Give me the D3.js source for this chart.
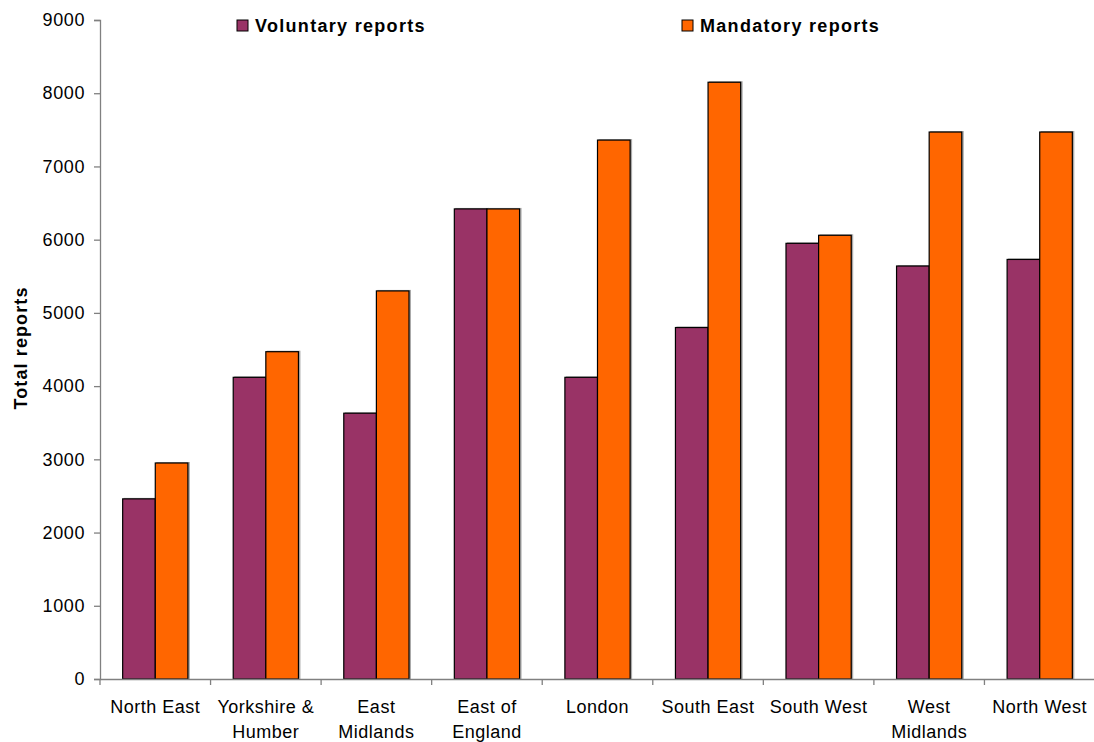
<!DOCTYPE html>
<html>
<head>
<meta charset="utf-8">
<script src="https://cdn.jsdelivr.net/npm/d3@7"></script>
<style>
  body { margin: 0; background: #fff; }
  text { font-family: "Liberation Sans", Arial, sans-serif; fill: #000; }
</style>
</head>
<body>
<svg id="chart" width="1094" height="742"></svg>
<script>
// data
var regions = ["North East", "Yorkshire & Humber", "East Midlands", "East of England",
  "London", "South East", "South West", "West Midlands", "North West"];
var regionLines = [["North East"], ["Yorkshire &", "Humber"], ["East", "Midlands"], ["East of", "England"],
  ["London"], ["South East"], ["South West"], ["West", "Midlands"], ["North West"]];
var voluntary = [2460, 4120, 3630, 6420, 4120, 4800, 5950, 5640, 5730];
var mandatory = [2950, 4470, 5300, 6420, 7360, 8150, 6060, 7470, 7470];
var seriesNames = ["Voluntary reports", "Mandatory reports"];
var yTicks = [0, 1000, 2000, 3000, 4000, 5000, 6000, 7000, 8000, 9000];

var colors = ["#993366", "#ff6600"];

var margin = { top: 20, right: -1, bottom: 63, left: 100 },
  width = 1094 - margin.left - margin.right,
  height = 742 - margin.top - margin.bottom;

var svg = d3.select("#chart");
var g = svg.append("g")
  .attr("transform", "translate(" + margin.left + "," + margin.top + ")");

var x = d3.scaleBand().domain(regions).range([0, width]).paddingInner(0).paddingOuter(0);
var x1 = d3.scaleBand().domain([0, 1]).range([x.bandwidth() * 0.205, x.bandwidth() * 0.795]);
var y = d3.scaleLinear().domain([0, 9000]).range([height, 0]);

// y axis
var yAxis = g.append("g")
  .call(d3.axisLeft(y).tickValues(yTicks).tickSize(6).tickPadding(9).tickFormat(d3.format("d")));
yAxis.select(".domain").attr("stroke", "#808080").attr("stroke-width", 1.3);
yAxis.selectAll(".tick line").attr("stroke", "#808080").attr("stroke-width", 1.3);
yAxis.selectAll(".tick text")
  .style("font-size", "18px")
  .style("letter-spacing", "0.6px")
  .attr("fill", "#000");

// bars
var groups = g.selectAll(".region")
  .data(regions)
  .enter()
  .append("g")
  .attr("class", "region")
  .attr("transform", function (d) { return "translate(" + x(d) + ",0)"; });

[voluntary, mandatory].forEach(function (vals, s) {
  // faint shadow
  groups.append("rect")
    .attr("x", function (d, i) { return x1(s) + 1; })
    .attr("y", function (d, i) { return y(vals[i]) - 1; })
    .attr("width", x1.bandwidth() + 1)
    .attr("height", function (d, i) { return height - y(vals[i]) + 1; })
    .attr("fill", "#aaa");
  groups.append("rect")
    .attr("x", function (d, i) { return x1(s); })
    .attr("y", function (d, i) { return y(vals[i]); })
    .attr("width", x1.bandwidth())
    .attr("height", function (d, i) { return height - y(vals[i]); })
    .attr("fill", colors[s])
    .attr("stroke", "#000")
    .attr("stroke-width", 1.2);
});

// x axis
var xAxis = g.append("g")
  .attr("transform", "translate(0," + height + ")")
  .call(d3.axisBottom(x).tickSize(0).tickFormat(""));
xAxis.select(".domain").attr("stroke", "#808080").attr("stroke-width", 1.3);
xAxis.selectAll(".tick").remove();

// tick marks between the categories
var bounds = regions.map(function (d) { return x(d); }).concat([width]);
xAxis.selectAll(".bound")
  .data(bounds)
  .enter()
  .append("line")
  .attr("x1", function (d) { return d; })
  .attr("x2", function (d) { return d; })
  .attr("y1", 0)
  .attr("y2", 6)
  .attr("stroke", "#808080")
  .attr("stroke-width", 1.3);

// category labels
var labels = xAxis.selectAll(".lab")
  .data(regions)
  .enter()
  .append("text")
  .attr("text-anchor", "middle")
  .attr("x", function (d) { return x(d) + x.bandwidth() / 2; })
  .attr("y", 34)
  .style("font-size", "18px")
  .style("letter-spacing", "0.5px");
labels.each(function (d, i) {
  var t = d3.select(this);
  regionLines[i].forEach(function (line, k) {
    t.append("tspan")
      .attr("x", x(d) + x.bandwidth() / 2)
      .attr("dy", k === 0 ? 0 : 25)
      .text(line);
  });
});

// y axis title
svg.append("text")
  .attr("transform", "translate(27,348) rotate(-90)")
  .attr("text-anchor", "middle")
  .style("font-size", "18px")
  .style("font-weight", "bold")
  .style("letter-spacing", "1.1px")
  .text("Total reports");

// legend
var legendX = [237, 682];
var legend = svg.selectAll(".legend")
  .data(seriesNames)
  .enter()
  .append("g")
  .attr("transform", function (d, i) { return "translate(" + legendX[i] + ",20)"; });
legend.append("rect")
  .attr("width", 11)
  .attr("height", 11)
  .attr("fill", function (d, i) { return colors[i]; })
  .attr("stroke", "#000")
  .attr("stroke-width", 1);
legend.append("text")
  .attr("x", 18)
  .attr("y", 12)
  .style("font-size", "18px")
  .style("font-weight", "bold")
  .style("letter-spacing", "1.3px")
  .text(function (d) { return d; });
</script>
</body>
</html>
